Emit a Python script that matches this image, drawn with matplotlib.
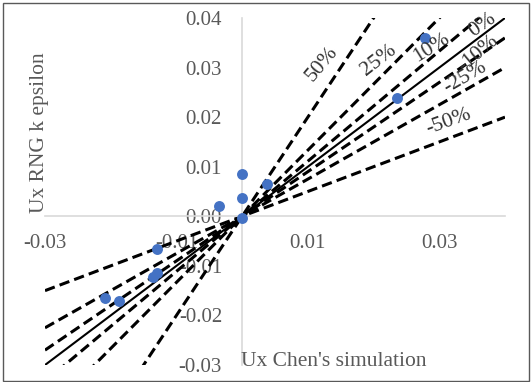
import numpy as np
import matplotlib
matplotlib.use('Agg')
from matplotlib import pyplot as plt

# measured points (Ux Chen's simulation vs Ux RNG k epsilon)
ux_chen = [0.0, 0.0, -0.0035, 0.0, 0.0038, 0.0279, 0.0235,
           -0.0129, -0.0136, -0.0129, -0.0209, -0.0188]
ux_rng = [0.0085, 0.0036, 0.0020, -0.0003, 0.0065, 0.0359, 0.0238,
          -0.0065, -0.0123, -0.0115, -0.0165, -0.0171]

# error bands and their label spots
band_labels = ['50%', '25%', '10%', '0%', '-10%', '-25%', '-50%']
band_slopes = [2.0, 1 / 0.75, 1 / 0.9, 1.0, 0.9, 0.75, 0.5]
label_x = [0.0121, 0.0208, 0.0288, 0.0366, 0.0359, 0.0339, 0.0314]
label_y = [0.0308, 0.0314, 0.0341, 0.0385, 0.0329, 0.0280, 0.0190]
label_rot = [50, 38, 32, 35, 40, 30, 20]

x_ticks = [-0.03, -0.01, 0.01, 0.03]
y_ticks = [-0.03, -0.02, -0.01, 0.00, 0.01, 0.02, 0.03, 0.04]

plt.rcParams['font.family'] = ['Liberation Serif', 'DejaVu Serif']

fig = plt.figure(figsize=(5.32, 3.82), dpi=100)
ax = fig.add_axes([45 / 532, 17 / 382, 460 / 532, 347 / 382])
ax.set_xlim(-0.03, 0.04)
ax.set_ylim(-0.03, 0.04)

xs = np.array([-0.03, 0.04])
for lab, k in zip(band_labels, band_slopes):
    if lab == '0%':
        ax.plot(xs, k * xs, color='black', lw=1.5, zorder=2)
    else:
        ax.plot(xs, k * xs, color='black', lw=2.2, linestyle=(0, (3.4, 1.7)), zorder=2)

ax.scatter(ux_chen, ux_rng, s=62, color='#4472C4', zorder=3, linewidths=0)

for lab, lx, ly, r in zip(band_labels, label_x, label_y, label_rot):
    ax.text(lx, ly, lab, rotation=r, ha='center', va='center', fontsize=15.5,
            color='#333333', rotation_mode='anchor', zorder=4)

for s in ['top', 'right']:
    ax.spines[s].set_visible(False)
ax.spines['left'].set_position(('data', 0))
ax.spines['bottom'].set_position(('data', 0))
ax.spines['left'].set_color('#D9D9D9')
ax.spines['bottom'].set_color('#D9D9D9')
ax.spines['left'].set_linewidth(1.2)
ax.spines['bottom'].set_linewidth(1.2)
ax.set_axisbelow(True)

ax.set_xticks(x_ticks)
ax.set_yticks(y_ticks)
ax.set_xticklabels(['%.2f' % v for v in x_ticks])
ax.set_yticklabels(['%.2f' % v for v in y_ticks])
ax.tick_params(length=0, labelsize=15, labelcolor='#595959')
ax.tick_params(axis='x', pad=13)
ax.tick_params(axis='y', pad=14.5)
ax.patch.set_alpha(0)

fig.text(40 / 532, 1 - 133 / 382, 'Ux RNG k epsilon', rotation=90, ha='center',
         va='center', fontsize=15.5, color='#595959')
fig.text(334 / 532, 1 - 362 / 382, "Ux Chen's simulation", ha='center',
         va='center', fontsize=15.5, color='#595959')

# outer frame
fig.patches.append(plt.Rectangle((3 / 532, 1 / 382), 526 / 532, 378 / 382,
                                 transform=fig.transFigure, fill=False,
                                 edgecolor='#595959', lw=1.0))

fig.savefig('out.png', dpi=100)
